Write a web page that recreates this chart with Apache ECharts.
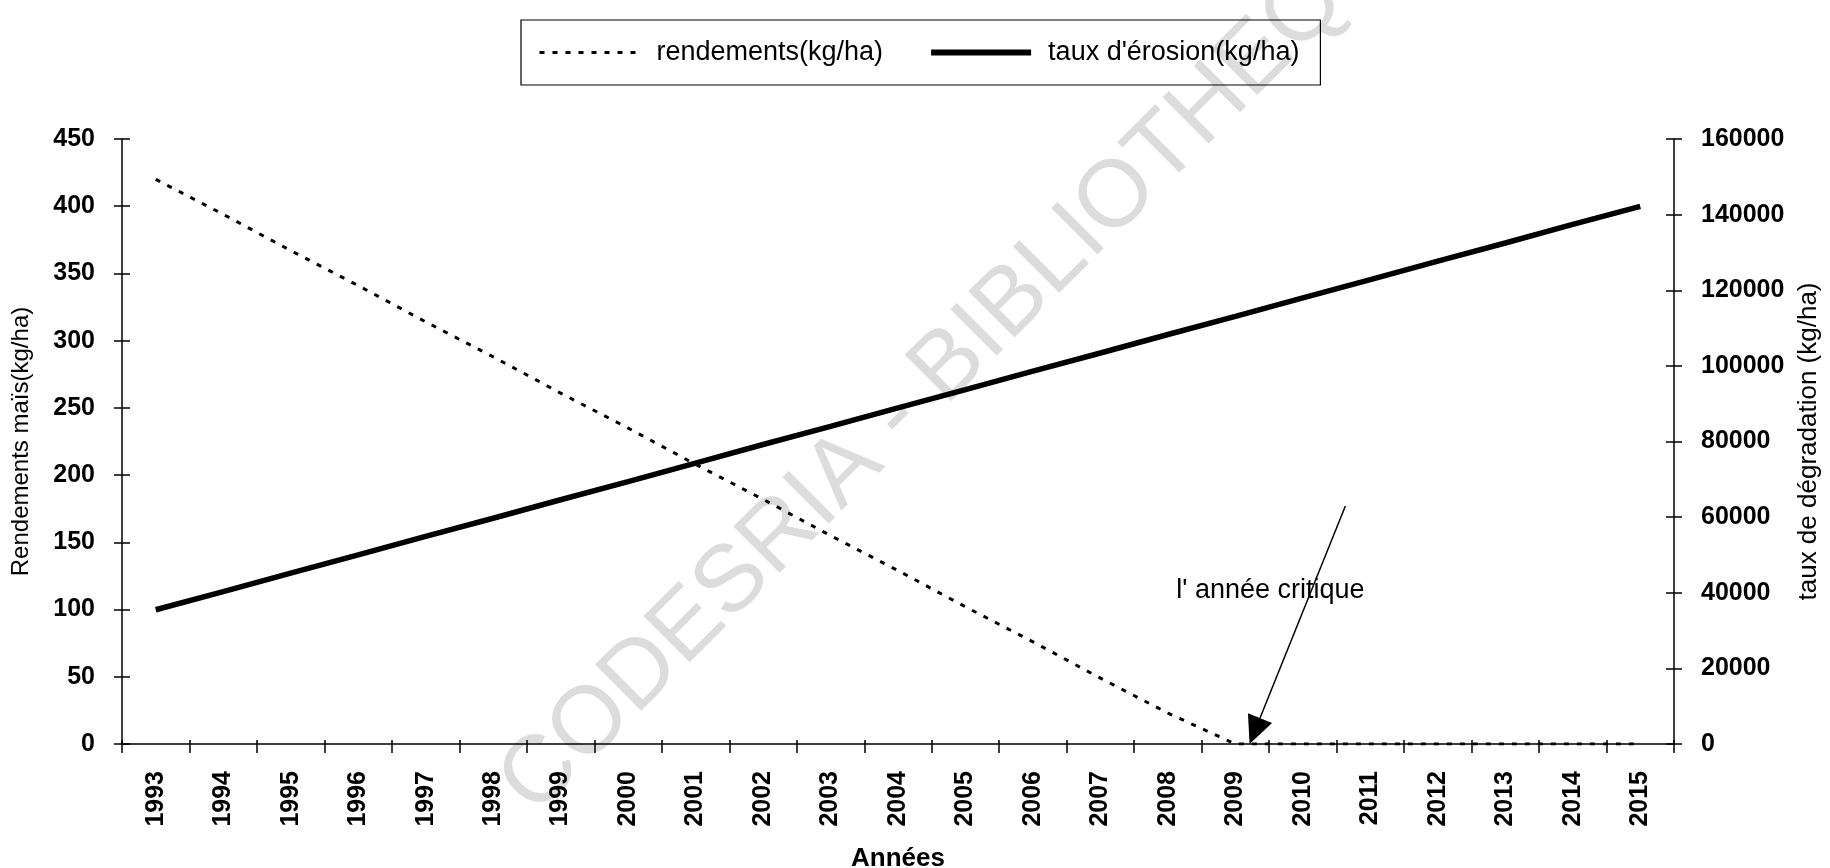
<!DOCTYPE html>
<html><head><meta charset="utf-8">
<script src="https://cdn.jsdelivr.net/npm/echarts@6/dist/echarts.min.js"></script>
<style>html,body{margin:0;padding:0;background:#fff}#c{width:1830px;height:868px}</style>
</head><body><div id="c"></div>
<script>
// ---- data ----
const years = ['1993','1994','1995','1996','1997','1998','1999','2000','2001','2002','2003','2004','2005','2006','2007','2008','2009','2010','2011','2012','2013','2014','2015'];
const rendements = [420, 394, 367, 341, 314, 288, 261, 235, 208, 182, 155, 129, 102, 76, 49, 23, 0, 0, 0, 0, 0, 0, 0];
const erosion = [35500, 40300, 45200, 50000, 54900, 59700, 64600, 69400, 74300, 79200, 84000, 88900, 93700, 98600, 103400, 108300, 113100, 118000, 122800, 127700, 132500, 137400, 142200];
const seriesNames = ['rendements(kg/ha)', "taux d'érosion(kg/ha)"];
const axisNames = {x: 'Années', yLeft: 'Rendements maïs(kg/ha)', yRight: 'taux de dégradation (kg/ha)'};
const annotationText = "l' année critique";
const watermarkText = 'CODESRIA - BIBLIOTHEQUE';

const FONT = '"Liberation Sans", Arial, Helvetica, sans-serif';
const BLACK = '#000';
const chart = echarts.init(document.getElementById('c'), null, {renderer: 'canvas'});
const G = {left: 122, right: 156, top: 139, bottom: 124, containLabel: false, outerBoundsMode: 'none'};

const tickLabel = {fontSize: 25, fontWeight: 'bold', color: BLACK, fontFamily: FONT, margin: 27,
                   formatter: v => String(v)};
const axLine = {show: true, lineStyle: {color: BLACK, width: 1.5}};
const tickStyle = {color: BLACK, width: 1.5};

chart.setOption({
  animation: false,
  backgroundColor: '#fff',
  textStyle: {fontFamily: FONT, color: BLACK},
  legend: {
    left: 521, top: 20, orient: 'horizontal',
    padding: [19, 21, 19, 17], itemGap: 45, itemWidth: 100, itemHeight: 16,
    borderColor: BLACK, borderWidth: 1.2,
    itemStyle: {opacity: 0},
    textStyle: {fontSize: 27, color: BLACK, fontFamily: FONT, padding: [0, 0, 0, 12]},
    data: [
      {name: seriesNames[0], lineStyle: {width: 3, type: [5, 8], color: BLACK}},
      {name: seriesNames[1], lineStyle: {width: 6, type: 'solid', color: BLACK}}
    ]
  },
  grid: [Object.assign({}, G), Object.assign({}, G)],
  xAxis: [
    {type: 'category', gridIndex: 0, data: years, boundaryGap: true, position: 'bottom',
     name: axisNames.x, nameLocation: 'middle', nameGap: 102,
     nameTextStyle: {fontSize: 26, fontWeight: 'bold', color: BLACK, fontFamily: FONT},
     axisLine: axLine,
     axisTick: {show: true, length: 9, lineStyle: tickStyle},
     axisLabel: Object.assign({}, tickLabel, {rotate: 90, interval: 0, formatter: null}),
     splitLine: {show: false}},
    {type: 'category', gridIndex: 1, data: years, boundaryGap: true, position: 'bottom',
     axisLine: {show: false},
     axisTick: {show: true, inside: true, length: 4, lineStyle: tickStyle},
     axisLabel: {show: false}, splitLine: {show: false}}
  ],
  yAxis: [
    {type: 'value', gridIndex: 0, min: 0, max: 450, interval: 50, position: 'left',
     name: axisNames.yLeft, nameLocation: 'middle', nameRotate: 90, nameGap: 89,
     nameTextStyle: {fontSize: 24, color: BLACK, fontFamily: FONT},
     axisLine: axLine,
     axisTick: {show: true, length: 8, lineStyle: tickStyle},
     axisLabel: tickLabel, splitLine: {show: false}},
    {type: 'value', gridIndex: 0, min: 0, max: 160000, interval: 20000, position: 'right',
     name: axisNames.yRight, nameLocation: 'middle', nameRotate: 90, nameGap: 122,
     nameTextStyle: {fontSize: 26, color: BLACK, fontFamily: FONT},
     axisLine: axLine,
     axisTick: {show: true, length: 8, lineStyle: tickStyle},
     axisLabel: tickLabel, splitLine: {show: false}},
    {type: 'value', gridIndex: 1, min: 0, max: 450, interval: 50, position: 'left',
     axisLine: {show: false},
     axisTick: {show: true, inside: true, length: 8, lineStyle: tickStyle},
     axisLabel: {show: false}, splitLine: {show: false}},
    {type: 'value', gridIndex: 1, min: 0, max: 160000, interval: 20000, position: 'right',
     axisLine: {show: false},
     axisTick: {show: true, inside: true, length: 8, lineStyle: tickStyle},
     axisLabel: {show: false}, splitLine: {show: false}}
  ],
  series: [
    {name: seriesNames[0], type: 'line', xAxisIndex: 0, yAxisIndex: 0, data: rendements,
     symbol: 'none', z: 3,
     lineStyle: {color: BLACK, width: 3, type: [5, 8]}, itemStyle: {color: BLACK}},
    {name: seriesNames[1], type: 'line', xAxisIndex: 0, yAxisIndex: 1, data: erosion,
     symbol: 'none', z: 3,
     lineStyle: {color: BLACK, width: 5.5}, itemStyle: {color: BLACK}}
  ]
});

// ---- annotation (arrow to the critical year), positioned through the axes ----
const p16 = chart.convertToPixel({gridIndex: 0}, [16, 0]);
const p17 = chart.convertToPixel({gridIndex: 0}, [17, 0]);
const bw = p17[0] - p16[0];
const tip = [p16[0] + 0.21 * bw, p16[1]];
const start = [p16[0] + 1.63 * bw, chart.convertToPixel({yAxisIndex: 0}, 177)];
const dx = tip[0] - start[0], dy = tip[1] - start[1];
const len = Math.sqrt(dx * dx + dy * dy);
const ux = dx / len, uy = dy / len;
const headLen = 28, headHalf = 13;
const base = [tip[0] - ux * headLen, tip[1] - uy * headLen];
const nx = -uy, ny = ux;
const textX = p16[0] - 0.876 * bw;
const textY = chart.convertToPixel({yAxisIndex: 0}, 113.8);

chart.setOption({
  graphic: [
    {type: 'text', z: -10, x: 970, y: 345, rotation: Math.PI / 4,
     style: {text: watermarkText, fill: '#dcdcdc', font: '95px ' + FONT,
             align: 'center', verticalAlign: 'middle'}},
    {type: 'line', z: 50, shape: {x1: start[0], y1: start[1], x2: base[0], y2: base[1]},
     style: {stroke: BLACK, lineWidth: 1.5}},
    {type: 'polygon', z: 50,
     shape: {points: [tip, [base[0] + nx * headHalf, base[1] + ny * headHalf], [base[0] - nx * headHalf, base[1] - ny * headHalf]]},
     style: {fill: BLACK}},
    {type: 'text', z: 49, x: textX, y: textY,
     style: {text: annotationText, fill: BLACK, font: '27px ' + FONT, align: 'left', verticalAlign: 'middle'}}
  ]
});
</script></body></html>
